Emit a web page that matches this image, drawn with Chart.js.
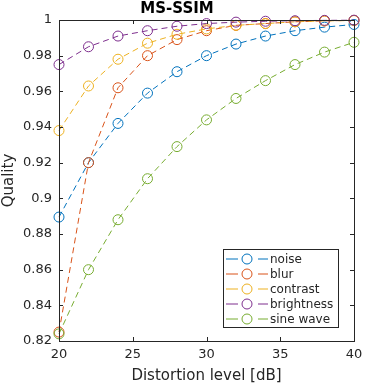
<!DOCTYPE html>
<html>
<head>
<meta charset="utf-8">
<script src="https://cdn.jsdelivr.net/npm/chart.js@4"></script>
<style>
  html, body { margin: 0; padding: 0; background: #fff; }
  #wrap { width: 365px; height: 385px; }
</style>
</head>
<body>
<div id="wrap"><canvas id="msChart"></canvas></div>
<script>
// Datos
const niveles = [20, 22, 24, 26, 28, 30, 32, 34, 36, 38, 40];
const nombres = ['noise', 'blur', 'contrast', 'brightness', 'sine wave'];
const colores = ['#0072BD', '#D95319', '#EDB120', '#7E2F8E', '#77AC30'];
const ruido = [0.8895, 0.920, 0.942, 0.959, 0.971, 0.980, 0.9865, 0.991, 0.994, 0.996, 0.9975];
const desenfoque = [0.825, 0.920, 0.962, 0.980, 0.989, 0.994, 0.997, 0.998, 0.999, 0.9995, 0.9998];
const contraste = [0.938, 0.963, 0.978, 0.987, 0.992, 0.995, 0.997, 0.998, 0.999, 0.9995, 0.9997];
const brillo = [0.975, 0.985, 0.991, 0.994, 0.9965, 0.998, 0.9988, 0.9993, 0.9996, 0.9998, 0.9999];
const seno = [0.824, 0.860, 0.888, 0.911, 0.929, 0.944, 0.956, 0.966, 0.975, 0.982, 0.9875];
const xTicks = [20, 25, 30, 35, 40];
const yTicks = [0.82, 0.84, 0.86, 0.88, 0.9, 0.92, 0.94, 0.96, 0.98, 1];

const series = [ruido, desenfoque, contraste, brillo, seno];
const ejeColor = '#262626';
const fuente = 'DejaVu Sans';

// Caja, marcas hacia dentro y leyenda estilo MATLAB
const cajaPlugin = {
    id: 'caja',
    afterDraw(chart) {
        const { ctx, chartArea: a, scales } = chart;
        ctx.save();
        ctx.strokeStyle = ejeColor;
        ctx.lineWidth = 1;
        ctx.strokeRect(Math.round(a.left) + 0.5, Math.round(a.top) + 0.5,
            Math.round(a.right - a.left), Math.round(a.bottom - a.top));
        ctx.beginPath();
        xTicks.forEach(v => {
            const x = Math.round(scales.x.getPixelForValue(v)) + 0.5;
            ctx.moveTo(x, a.bottom); ctx.lineTo(x, a.bottom - 4);
            ctx.moveTo(x, a.top); ctx.lineTo(x, a.top + 4);
        });
        yTicks.forEach(v => {
            const y = Math.round(scales.y.getPixelForValue(v)) + 0.5;
            ctx.moveTo(a.left, y); ctx.lineTo(a.left + 4, y);
            ctx.moveTo(a.right, y); ctx.lineTo(a.right - 4, y);
        });
        ctx.stroke();

        // leyenda
        const lx = 223, ly = 249, lw = 115, lh = 78;
        ctx.fillStyle = '#fff';
        ctx.fillRect(lx, ly, lw, lh);
        ctx.strokeStyle = ejeColor;
        ctx.strokeRect(lx + 0.5, ly + 0.5, lw, lh);
        ctx.font = '12px "' + fuente + '"';
        ctx.textBaseline = 'middle';
        nombres.forEach((n, i) => {
            const y = ly + 10 + i * 15;
            ctx.strokeStyle = colores[i];
            ctx.beginPath();
            ctx.moveTo(lx + 3, y); ctx.lineTo(lx + 15, y);
            ctx.moveTo(lx + 35, y); ctx.lineTo(lx + 45, y);
            ctx.stroke();
            ctx.beginPath();
            ctx.arc(lx + 24, y, 5, 0, Math.PI * 2);
            ctx.stroke();
            ctx.fillStyle = ejeColor;
            ctx.fillText(n, lx + 47, y + 1);
        });
        ctx.restore();
    }
};

new Chart(document.getElementById('msChart'), {
    type: 'line',
    data: {
        datasets: series.map((s, i) => ({
            label: nombres[i],
            data: niveles.map((x, j) => ({ x: x, y: s[j] })),
            borderColor: colores[i],
            backgroundColor: 'rgba(0,0,0,0)',
            pointBackgroundColor: 'rgba(0,0,0,0)',
            pointBorderColor: colores[i],
            borderWidth: 1,
            borderDash: [6, 4],
            pointRadius: 5,
            pointBorderWidth: 1,
            pointHoverRadius: 5,
            clip: false,
            order: 4 - i
        }))
    },
    options: {
        responsive: true,
        maintainAspectRatio: false,
        animation: false,
        layout: { padding: { top: 0, right: 11, bottom: 0, left: 0 } },
        plugins: {
            legend: { display: false },
            tooltip: { enabled: false },
            title: {
                display: true,
                text: 'MS-SSIM',
                color: '#000',
                font: { family: fuente, size: 15, weight: 'bold' },
                padding: { top: 0, bottom: 2 }
            }
        },
        scales: {
            x: {
                type: 'linear',
                min: 20,
                max: 40,
                afterFit: s => { s.height = 44; s.paddingLeft = 0; s.paddingRight = 0; },
                afterBuildTicks: s => { s.ticks = xTicks.map(v => ({ value: v })); },
                grid: { display: false, drawTicks: false },
                border: { display: false },
                ticks: {
                    color: ejeColor,
                    font: { family: fuente, size: 13 },
                    padding: 6,
                    maxRotation: 0
                },
                title: {
                    display: true,
                    text: 'Distortion level [dB]',
                    color: ejeColor,
                    font: { family: fuente, size: 15 },
                    padding: { top: 0, bottom: 0 }
                }
            },
            y: {
                type: 'linear',
                min: 0.82,
                max: 1,
                afterFit: s => { s.width = 59; s.paddingTop = 0; s.paddingBottom = 0; },
                afterBuildTicks: s => { s.ticks = yTicks.map(v => ({ value: v })); },
                grid: { display: false, drawTicks: false },
                border: { display: false },
                ticks: {
                    color: ejeColor,
                    font: { family: fuente, size: 13 },
                    padding: 7,
                    callback: v => String(Math.round(v * 100) / 100)
                },
                title: {
                    display: true,
                    text: 'Quality',
                    color: ejeColor,
                    font: { family: fuente, size: 15 },
                    padding: { top: 0, bottom: 0 }
                }
            }
        }
    },
    plugins: [cajaPlugin]
});
</script>
</body>
</html>
